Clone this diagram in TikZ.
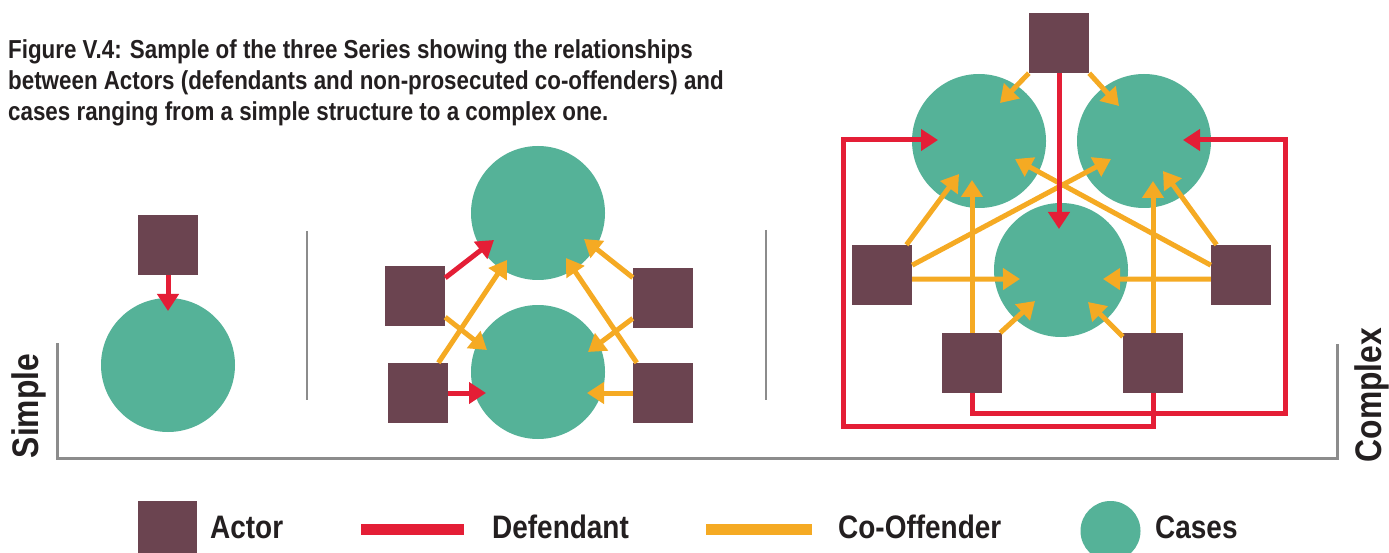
\documentclass[tikz,border=0pt]{standalone}
\usepackage{fontspec}
\setmainfont{Liberation Sans}[FakeStretch=0.86]
\usetikzlibrary{arrows.meta}
\definecolor{actorc}{RGB}{107,68,80}
\definecolor{casec}{RGB}{85,178,152}
\definecolor{defc}{RGB}{228,30,54}
\definecolor{cooc}{RGB}{245,170,35}
\definecolor{axisc}{RGB}{140,140,140}
\definecolor{txtc}{RGB}{35,31,32}
\tikzset{
  actorbox/.style={rectangle, fill=actorc, minimum size=60pt, inner sep=0pt},
  casenode/.style={circle, fill=casec, minimum size=134pt, inner sep=0pt},
  tipstyle/.style={-{Triangle[length=17pt,width=21pt]}},
  defarrow/.style={draw=defc, line width=5pt, tipstyle},
  cooarrow/.style={draw=cooc, line width=5pt, tipstyle},
  defline/.style={draw=defc, line width=5pt},
  axisline/.style={draw=axisc, line width=3pt},
  seprule/.style={draw=axisc, line width=2.5pt},
  lbl/.style={font=\fontsize{32.5}{36}\selectfont\bfseries, text=txtc, inner sep=0pt, anchor=base west},
  sidelbl/.style={font=\fontsize{37}{40}\selectfont\bfseries, text=txtc, inner sep=0pt, rotate=90},
}
\begin{document}
\begin{tikzpicture}[x=1pt,y=-1pt]
\clip (0,0) rectangle (1389,553);
\fill[white] (0,0) rectangle (1389,553);

% title
\node[font=\fontsize{26}{31}\selectfont\bfseries, text=txtc, align=left, inner sep=0pt, anchor=north west] (title) at (8,39)
 {Figure V.4: Sample of the three Series showing the relationships\\
  between Actors (defendants and non-prosecuted co-offenders) and\\
  cases ranging from a simple structure to a complex one.};

% axes
\coordinate (ax1) at (57,343);
\coordinate (ax2) at (57,458);
\coordinate (ax3) at (1337,458);
\coordinate (ax4) at (1337,344);
\draw[axisline] (ax1) -- (ax2) -- (ax3) -- (ax4);
\coordinate (s1a) at (307,231); \coordinate (s1b) at (307,400);
\coordinate (s2a) at (766,230); \coordinate (s2b) at (766,400);
\draw[seprule] (s1a) -- (s1b);
\draw[seprule] (s2a) -- (s2b);
\node[sidelbl] (simple) at (29,406) {Simple};
\node[sidelbl] (complex) at (1372,395) {Complex};

% ---------- simple ----------
\node[casenode] (sc) at (168,365) {};
\node[actorbox] (sa) at (168,245) {};
\coordinate (sct) at (168,311);
\draw[defarrow] (sa.south) -- (sct);

% ---------- middle ----------
\node[casenode] (m1) at (538,213) {};
\node[casenode] (m2) at (538,372) {};
\node[actorbox] (lu) at (415,296) {};
\node[actorbox] (ll) at (418,393) {};
\node[actorbox] (ru) at (663,298) {};
\node[actorbox] (rl) at (663,393) {};
\coordinate (t1) at (494,240);
\coordinate (t2) at (487,350);
\coordinate (t3) at (507,260);
\coordinate (t4) at (486,393);
\coordinate (t5) at (584,239);
\coordinate (t6) at (588,352);
\coordinate (t7) at (566,258);
\coordinate (t8) at (587,393);
\draw[cooarrow] (lu.-35) -- (t2);
\draw[cooarrow] (ll.56) -- (t3);
\draw[cooarrow] (ru.146) -- (t5);
\draw[cooarrow] (ru.214) -- (t6);
\draw[cooarrow] (rl.131) -- (t7);
\draw[cooarrow] (rl.west) -- (t8);
\draw[defarrow] (lu.31) -- (t1);
\draw[defarrow] (ll.east) -- (t4);

% ---------- complex ----------
\node[casenode] (ctl) at (979,141) {};
\node[casenode] (ctr) at (1144,141) {};
\node[casenode] (cb) at (1061,270) {};
\node[actorbox] (ct) at (1059,43) {};
\node[actorbox] (cl) at (882,275) {};
\node[actorbox] (cr) at (1241,275) {};
\node[actorbox] (cbl) at (972,363) {};
\node[actorbox] (cbr) at (1153,363) {};
\coordinate (u1) at (1000,103);
\coordinate (u2) at (1119,106);
\coordinate (u3) at (1059,229);
\coordinate (u4) at (959,174);
\coordinate (u5) at (1111,159);
\coordinate (u6) at (1020,279);
\coordinate (u7) at (1163,171);
\coordinate (u8) at (1015,159);
\coordinate (u9) at (1103,279);
\coordinate (u10) at (972,180);
\coordinate (u11) at (1035,301);
\coordinate (u12) at (1153,181);
\coordinate (u13) at (1088,302);
\coordinate (u14) at (938,140);
\coordinate (u15) at (1183,140);
\coordinate (k1) at (843,426);
\coordinate (k2) at (1285,413);
% red loops
\draw[defline] (cbr.south) -- (cbr.south |- k1) -- (k1) -- (k1 |- u14) -- ++(20,0);
\draw[defarrow] (k1 |- u14) -- (u14);
\draw[defline] (cbl.south) -- (cbl.south |- k2) -- (k2) -- (k2 |- u15) -- ++(-20,0);
\draw[defarrow] (k2 |- u15) -- (u15);
% co-offender arrows
\draw[cooarrow] (ct.south west) -- (u1);
\draw[cooarrow] (ct.south east) -- (u2);
\draw[cooarrow] (cl.51) -- (u4);
\draw[cooarrow] (cl.18) -- (u5);
\draw[cooarrow] (cl.-8) -- (u6);
\draw[cooarrow] (cr.129) -- (u7);
\draw[cooarrow] (cr.162) -- (u8);
\draw[cooarrow] (cr.188) -- (u9);
\draw[cooarrow] (cbl.north) -- (u10);
\draw[cooarrow] (cbl.47) -- (u11);
\draw[cooarrow] (cbr.north) -- (u12);
\draw[cooarrow] (cbr.139) -- (u13);
\draw[defarrow] (ct.south) -- (u3);

% ---------- legend ----------
\node[actorbox, minimum size=59pt] (lgA) at (167.5,530.5) {};
\node[lbl] (lgAt) at (210,538) {Actor};
\coordinate (lr1) at (361,529.5); \coordinate (lr2) at (464,529.5);
\draw[defc, line width=11pt] (lr1) -- (lr2);
\node[lbl] (lgDt) at (492,538) {Defendant};
\coordinate (lo1) at (706,529.5); \coordinate (lo2) at (812,529.5);
\draw[cooc, line width=11pt] (lo1) -- (lo2);
\node[lbl] (lgOt) at (838,538) {Co-Offender};
\node[casenode, minimum size=60pt] (lgC) at (1110.5,531) {};
\node[lbl] (lgCt) at (1155,538) {Cases};
\end{tikzpicture}
\end{document}
